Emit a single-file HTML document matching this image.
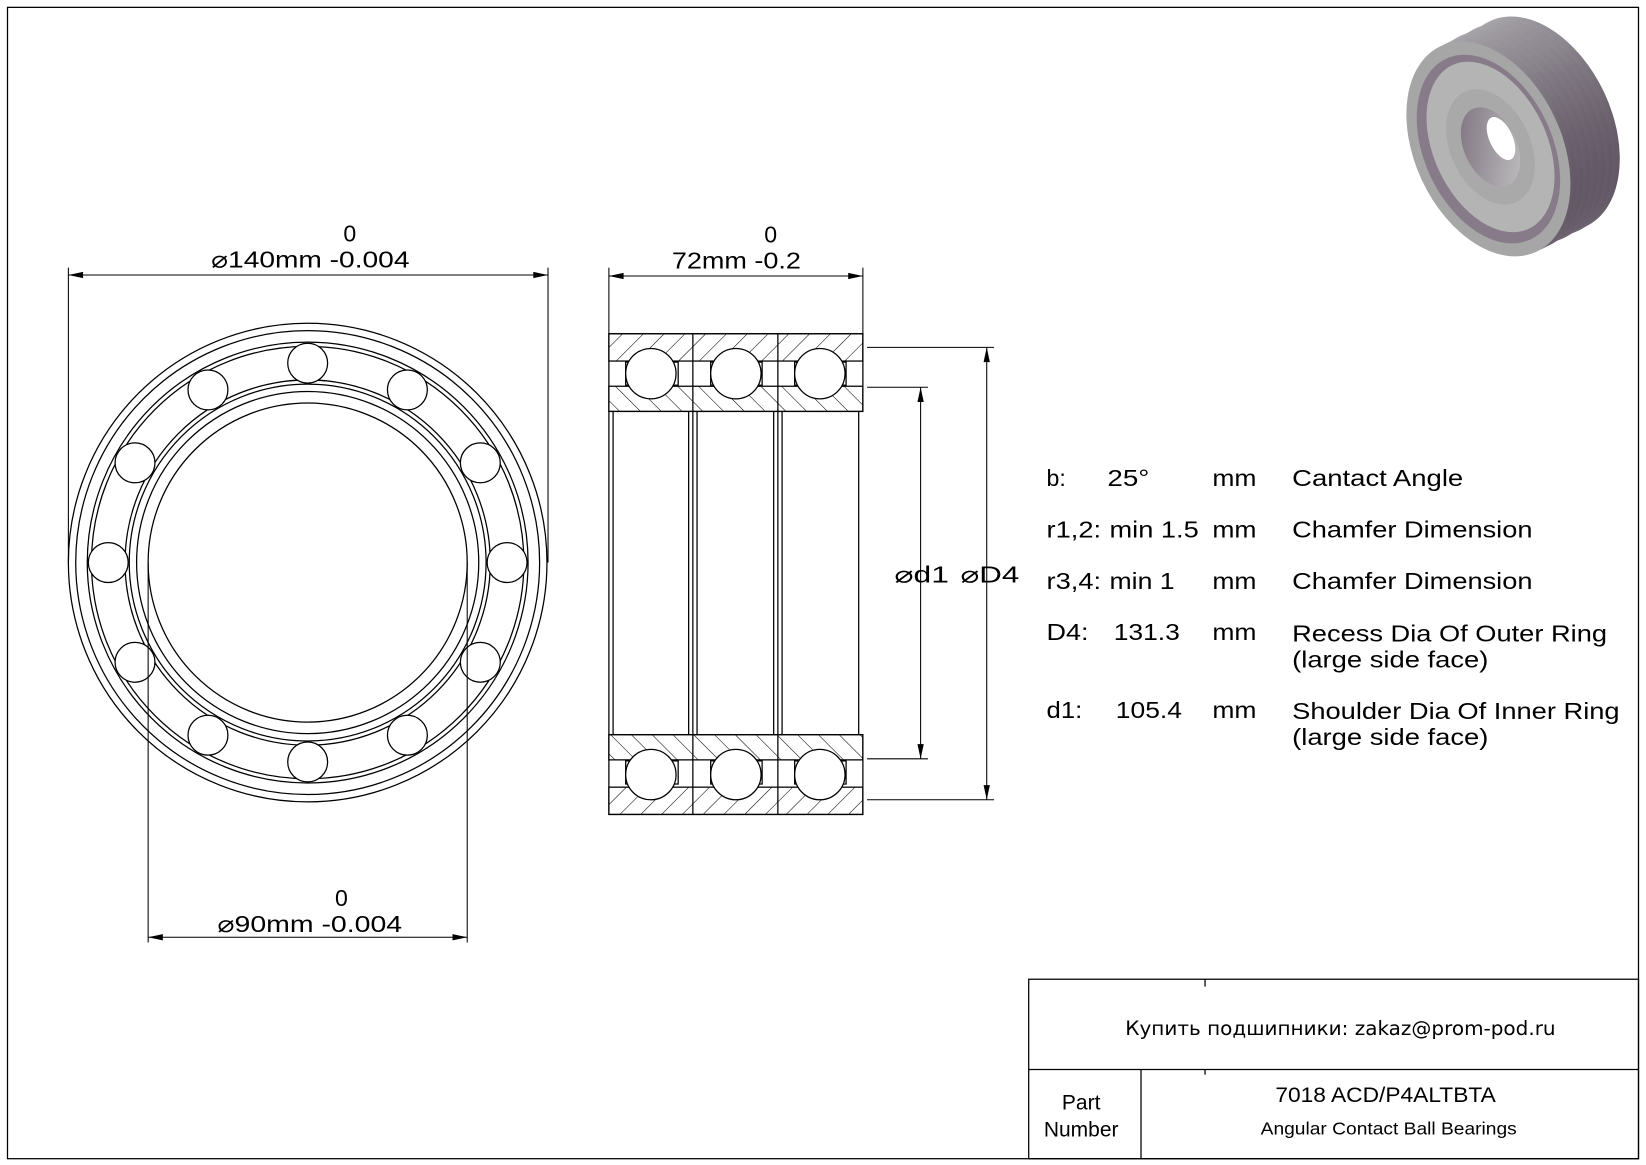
<!DOCTYPE html>
<html><head><meta charset="utf-8"><style>html,body{margin:0;padding:0;background:#fff}svg{display:block}</style></head><body>
<svg width="1646" height="1165" viewBox="0 0 1568 1110" xmlns="http://www.w3.org/2000/svg" font-family="Liberation Sans, DejaVu Sans, sans-serif">
<defs>
<pattern id="h" width="14" height="14" patternUnits="userSpaceOnUse" patternTransform="rotate(45)"><line x1="0" y1="0" x2="0" y2="14" stroke="#000" stroke-width="1"/></pattern>
<pattern id="h2" width="14" height="14" patternUnits="userSpaceOnUse" patternTransform="rotate(-45)"><line x1="0" y1="0" x2="0" y2="14" stroke="#000" stroke-width="1"/></pattern>
<linearGradient id="g1" x1="0" y1="0" x2="1" y2="1"><stop offset="0" stop-color="#c0c0c0"/><stop offset="0.55" stop-color="#8d8890"/><stop offset="1" stop-color="#4e3f50"/></linearGradient>
<linearGradient id="g2" x1="0" y1="0" x2="1" y2="1"><stop offset="0" stop-color="#7a6e7c"/><stop offset="1" stop-color="#c4c4c4"/></linearGradient>
</defs>
<rect x="7" y="7" width="1554" height="1097" fill="none" stroke="#000" stroke-width="1.2"/>

<!-- 3D image -->
<g fill="url(#g1)">
<ellipse cx="1465" cy="118" rx="70" ry="108" transform="rotate(-25 1465 118)"/>
<ellipse cx="1458" cy="122" rx="70" ry="108" transform="rotate(-25 1458 122)"/>
<ellipse cx="1451" cy="125" rx="70" ry="108" transform="rotate(-25 1451 125)"/>
<ellipse cx="1444" cy="129" rx="70" ry="108" transform="rotate(-25 1444 129)"/>
<ellipse cx="1437" cy="132" rx="70" ry="108" transform="rotate(-25 1437 132)"/>
<ellipse cx="1430" cy="136" rx="70" ry="108" transform="rotate(-25 1430 136)"/>
<ellipse cx="1424" cy="139" rx="70" ry="108" transform="rotate(-25 1424 139)"/>
</g>
<ellipse cx="1418" cy="142" rx="70" ry="108" transform="rotate(-25 1418 142)" fill="#a6a6a6"/>
<ellipse cx="1418" cy="142" rx="61" ry="95" transform="rotate(-25 1418 142)" fill="#877b8a"/>
<ellipse cx="1420" cy="140" rx="54" ry="86" transform="rotate(-25 1420 140)" fill="#b4b4b4"/>
<ellipse cx="1420" cy="140" rx="38" ry="58" transform="rotate(-25 1420 140)" fill="#a9a9a9"/>
<ellipse cx="1420" cy="140" rx="25" ry="40" transform="rotate(-25 1420 140)" fill="url(#g2)"/>
<ellipse cx="1430" cy="132" rx="11" ry="22" transform="rotate(-25 1430 132)" fill="#fff"/>

<!-- front view -->
<g fill="none" stroke="#000" stroke-width="1.2">
<circle cx="293" cy="536" r="228"/>
<circle cx="293" cy="536" r="221"/>
<circle cx="293" cy="536" r="210"/>
<circle cx="293" cy="536" r="206"/>
<circle cx="293" cy="536" r="174"/>
<circle cx="293" cy="536" r="170"/>
<circle cx="293" cy="536" r="163"/>
<circle cx="293" cy="536" r="152"/>
</g>
<g fill="#fff" stroke="#000" stroke-width="1.2">
<circle cx="293" cy="346" r="19"/><circle cx="388" cy="371.5" r="19"/><circle cx="457.5" cy="441" r="19"/>
<circle cx="483" cy="536" r="19"/><circle cx="457.5" cy="631" r="19"/><circle cx="388" cy="700.5" r="19"/>
<circle cx="293" cy="726" r="19"/><circle cx="198" cy="700.5" r="19"/><circle cx="128.5" cy="631" r="19"/>
<circle cx="103" cy="536" r="19"/><circle cx="128.5" cy="441" r="19"/><circle cx="198" cy="371.5" r="19"/>
</g>
<g stroke="#000" stroke-width="1">
<line x1="65" y1="255" x2="65" y2="536"/><line x1="522" y1="255" x2="522" y2="536"/>
<line x1="65" y1="262" x2="522" y2="262"/>
<line x1="141" y1="536" x2="141" y2="898"/><line x1="445" y1="536" x2="445" y2="898"/>
<line x1="141" y1="893" x2="445" y2="893"/>
<line x1="580" y1="255" x2="580" y2="318"/><line x1="822" y1="255" x2="822" y2="318"/>
<line x1="580" y1="263" x2="822" y2="263"/>
<line x1="826" y1="369" x2="884" y2="369"/><line x1="826" y1="723" x2="884" y2="723"/>
<line x1="877" y1="369" x2="877" y2="723"/>
<line x1="826" y1="331" x2="947" y2="331"/><line x1="826" y1="762" x2="947" y2="762"/>
<line x1="940" y1="331" x2="940" y2="762"/>
</g>
<g fill="#000">
<path d="M65 262 l14 -3 v6z"/><path d="M522 262 l-14 -3 v6z"/>
<path d="M141 893 l14 -3 v6z"/><path d="M445 893 l-14 -3 v6z"/>
<path d="M580 263 l14 -3 v6z"/><path d="M822 263 l-14 -3 v6z"/>
<path d="M877 369 l-3 14 h6z"/><path d="M877 723 l-3 -14 h6z"/>
<path d="M940 331 l-3 14 h6z"/><path d="M940 762 l-3 -14 h6z"/>
</g>
<g font-size="22" fill="#000" lengthAdjust="spacingAndGlyphs">
<text x="327" y="230">0</text><text x="201" y="255" textLength="189" lengthAdjust="spacingAndGlyphs">⌀140mm -0.004</text>
<text x="319" y="863">0</text><text x="207" y="888" textLength="176" lengthAdjust="spacingAndGlyphs">⌀90mm -0.004</text>
<text x="728" y="231">0</text><text x="640" y="256" textLength="123" lengthAdjust="spacingAndGlyphs">72mm -0.2</text>
<text x="852" y="555" textLength="52" lengthAdjust="spacingAndGlyphs">⌀d1</text><text x="915" y="555" textLength="56" lengthAdjust="spacingAndGlyphs">⌀D4</text>
</g>

<!-- side view -->
<g stroke="#000" stroke-width="1.2">
<rect x="580" y="318" width="242" height="74" fill="#fff"/>
<rect x="580" y="700" width="242" height="76" fill="#fff"/>
<rect x="580" y="318" width="242" height="26" fill="url(#h)"/>
<rect x="580" y="368" width="242" height="24" fill="url(#h2)"/>
<rect x="580" y="700" width="242" height="24" fill="url(#h2)"/>
<rect x="580" y="750" width="242" height="26" fill="url(#h)"/>
<line x1="660" y1="318" x2="660" y2="776"/><line x1="741" y1="318" x2="741" y2="776"/>
<line x1="580" y1="392" x2="580" y2="700"/><line x1="584" y1="392" x2="584" y2="700"/>
<line x1="656" y1="392" x2="656" y2="700"/><line x1="664" y1="392" x2="664" y2="700"/>
<line x1="737" y1="392" x2="737" y2="700"/><line x1="745" y1="392" x2="745" y2="700"/>
<line x1="818" y1="392" x2="818" y2="700"/>
</g>
<g fill="#fff" stroke="#000" stroke-width="1.2">
<rect x="596" y="345" width="8" height="22"/><rect x="638" y="345" width="8" height="22"/>
<rect x="677" y="345" width="8" height="22"/><rect x="718" y="345" width="8" height="22"/>
<rect x="757" y="345" width="8" height="22"/><rect x="798" y="345" width="8" height="22"/>
<rect x="596" y="725" width="8" height="22"/><rect x="638" y="725" width="8" height="22"/>
<rect x="677" y="725" width="8" height="22"/><rect x="718" y="725" width="8" height="22"/>
<rect x="757" y="725" width="8" height="22"/><rect x="798" y="725" width="8" height="22"/>
<circle cx="620" cy="356" r="24"/><circle cx="701" cy="356" r="24"/><circle cx="781" cy="356" r="24"/>
<circle cx="620" cy="738" r="24"/><circle cx="701" cy="738" r="24"/><circle cx="781" cy="738" r="24"/>
</g>

<!-- spec table -->
<g font-size="22" fill="#000">
<text x="997" y="463">b:</text><text x="1055" y="463" textLength="40" lengthAdjust="spacingAndGlyphs">25°</text><text x="1155" y="463" textLength="42" lengthAdjust="spacingAndGlyphs">mm</text><text x="1231" y="463" textLength="163" lengthAdjust="spacingAndGlyphs">Cantact Angle</text>
<text x="997" y="512" textLength="52" lengthAdjust="spacingAndGlyphs">r1,2:</text><text x="1057" y="512" textLength="85" lengthAdjust="spacingAndGlyphs">min 1.5</text><text x="1155" y="512" textLength="42" lengthAdjust="spacingAndGlyphs">mm</text><text x="1231" y="512" textLength="229" lengthAdjust="spacingAndGlyphs">Chamfer Dimension</text>
<text x="997" y="561" textLength="52" lengthAdjust="spacingAndGlyphs">r3,4:</text><text x="1057" y="561" textLength="62" lengthAdjust="spacingAndGlyphs">min 1</text><text x="1155" y="561" textLength="42" lengthAdjust="spacingAndGlyphs">mm</text><text x="1231" y="561" textLength="229" lengthAdjust="spacingAndGlyphs">Chamfer Dimension</text>
<text x="997" y="610" textLength="40" lengthAdjust="spacingAndGlyphs">D4:</text><text x="1061" y="610" textLength="63" lengthAdjust="spacingAndGlyphs">131.3</text><text x="1155" y="610" textLength="42" lengthAdjust="spacingAndGlyphs">mm</text><text x="1231" y="611" textLength="300" lengthAdjust="spacingAndGlyphs">Recess Dia Of Outer Ring</text><text x="1231" y="636" textLength="187" lengthAdjust="spacingAndGlyphs">(large side face)</text>
<text x="997" y="684" textLength="34" lengthAdjust="spacingAndGlyphs">d1:</text><text x="1063" y="684" textLength="63" lengthAdjust="spacingAndGlyphs">105.4</text><text x="1155" y="684" textLength="42" lengthAdjust="spacingAndGlyphs">mm</text><text x="1231" y="685" textLength="312" lengthAdjust="spacingAndGlyphs">Shoulder Dia Of Inner Ring</text><text x="1231" y="710" textLength="187" lengthAdjust="spacingAndGlyphs">(large side face)</text>
</g>

<!-- title block -->
<g stroke="#000" stroke-width="1.2" fill="none">
<rect x="980" y="933" width="581" height="171"/>
<line x1="980" y1="1019" x2="1561" y2="1019"/>
<line x1="1087" y1="1019" x2="1087" y2="1104"/>
<line x1="1148" y1="933" x2="1148" y2="940"/>
<line x1="1148" y1="1019" x2="1148" y2="1024"/>
</g>
<g fill="#000">
<text x="1072" y="986" font-size="19" font-family="DejaVu Sans, Liberation Sans, sans-serif" textLength="410" lengthAdjust="spacingAndGlyphs">Купить подшипники: zakaz@prom-pod.ru</text>
<text x="1030" y="1057" font-size="20" text-anchor="middle">Part</text>
<text x="1030" y="1083" font-size="20" text-anchor="middle">Number</text>
<text x="1215" y="1050" font-size="20" textLength="210" lengthAdjust="spacingAndGlyphs">7018 ACD/P4ALTBTA</text>
<text x="1201" y="1081" font-size="17" textLength="244" lengthAdjust="spacingAndGlyphs">Angular Contact Ball Bearings</text>
</g>
</svg>
</body></html>
